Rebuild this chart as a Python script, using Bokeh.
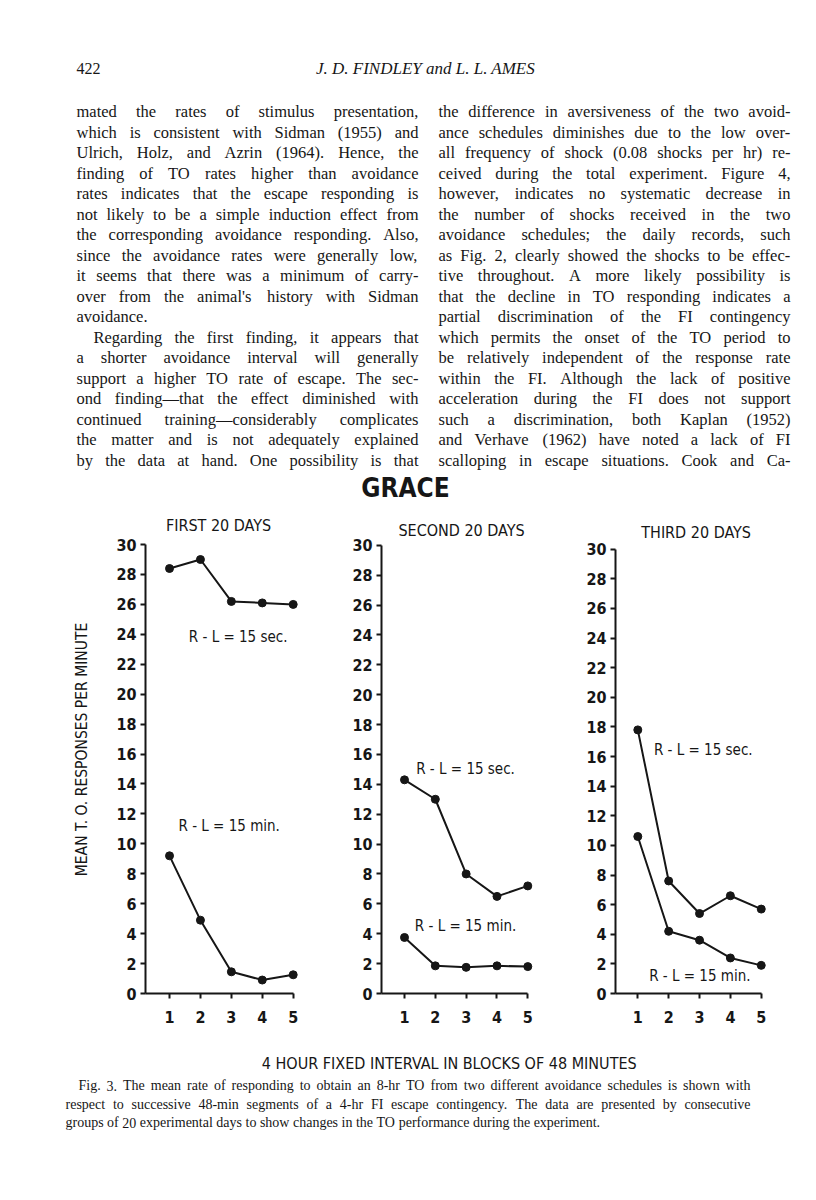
from bokeh.plotting import figure
from bokeh.models import Range1d, FixedTicker
from bokeh.layouts import row, column
from bokeh.core.properties import value
from bokeh.embed import file_html
from bokeh.resources import INLINE

# ---------------- data ----------------
blocks = [1, 2, 3, 4, 5]
first_sec = [28.4, 29.0, 26.2, 26.1, 26.0]
first_min = [9.2, 4.9, 1.45, 0.9, 1.25]
second_sec = [14.3, 13.0, 8.0, 6.5, 7.2]
second_min = [3.75, 1.85, 1.75, 1.85, 1.8]
third_sec = [17.8, 7.6, 5.4, 6.6, 5.7]
third_min = [10.6, 4.2, 3.6, 2.4, 1.9]
y_ticks = list(range(0, 31, 2))
panel_titles = ["FIRST 20 DAYS", "SECOND 20 DAYS", "THIRD 20 DAYS"]
label_sec = "R - L = 15 sec."
label_min = "R - L = 15 min."
y_title = "MEAN T. O. RESPONSES PER MINUTE"
x_title = "4 HOUR FIXED INTERVAL  IN BLOCKS OF 48 MINUTES"
big_title = "GRACE"

page_no = "422"
running_head = "J. D. FINDLEY and L. L. AMES"
left_lines = [
    "mated the rates of stimulus presentation,",
    "which is consistent with Sidman (1955) and",
    "Ulrich, Holz, and Azrin (1964). Hence, the",
    "finding of TO rates higher than avoidance",
    "rates indicates that the escape responding is",
    "not likely to be a simple induction effect from",
    "the corresponding avoidance responding. Also,",
    "since the avoidance rates were generally low,",
    "it seems that there was a minimum of carry-",
    "over from the animal's history with Sidman",
    "avoidance.",
    "Regarding the first finding, it appears that",
    "a shorter avoidance interval will generally",
    "support a higher TO rate of escape. The sec-",
    "ond finding\u2014that the effect diminished with",
    "continued training\u2014considerably complicates",
    "the matter and is not adequately explained",
    "by the data at hand. One possibility is that",
]
right_lines = [
    "the difference in aversiveness of the two avoid-",
    "ance schedules diminishes due to the low over-",
    "all frequency of shock (0.08 shocks per hr) re-",
    "ceived during the total experiment. Figure 4,",
    "however, indicates no systematic decrease in",
    "the number of shocks received in the two",
    "avoidance schedules; the daily records, such",
    "as Fig. 2, clearly showed the shocks to be effec-",
    "tive throughout. A more likely possibility is",
    "that the decline in TO responding indicates a",
    "partial discrimination of the FI contingency",
    "which permits the onset of the TO period to",
    "be relatively independent of the response rate",
    "within the FI. Although the lack of positive",
    "acceleration during the FI does not support",
    "such a discrimination, both Kaplan (1952)",
    "and Verhave (1962) have noted a lack of FI",
    "scalloping in escape situations. Cook and Ca-",
]
caption_lines = [
    "Fig. 3. The mean rate of responding to obtain an 8-hr TO from two different avoidance schedules is shown with",
    "respect to successive 48-min segments of a 4-hr FI escape contingency. The data are presented by consecutive",
    "groups of 20 experimental days to show changes in the TO performance during the experiment.",
]

INK = "#161616"
SERIF = "Liberation Serif"
NARROW = "DejaVu Sans Condensed"

# approximate Times advance widths (1/1000 em) for justification
_w = {}
for ch, w in zip(" !\"#$%&'()*+,-./", [250, 333, 408, 500, 500, 833, 778, 333, 333, 333, 500, 564, 250, 333, 250, 278]):
    _w[ch] = w
for ch in "0123456789":
    _w[ch] = 500
for ch, w in zip(":;<=>?", [278, 278, 564, 564, 564, 444]):
    _w[ch] = w
for ch, w in zip("ABCDEFGHIJKLMNOPQRSTUVWXYZ",
                 [722, 667, 667, 722, 611, 556, 722, 722, 333, 389, 722, 611, 889, 722, 722, 556, 722, 667, 556, 611, 722, 722, 944, 722, 722, 611]):
    _w[ch] = w
for ch, w in zip("abcdefghijklmnopqrstuvwxyz",
                 [444, 500, 444, 500, 444, 333, 500, 500, 278, 278, 500, 278, 778, 500, 500, 500, 500, 333, 389, 278, 500, 500, 722, 500, 500, 444]):
    _w[ch] = w
_w["\u2014"] = 1000


def tw(s, size):
    return sum(_w.get(c, 500) for c in s) * size / 1000.0


def layout_line(line, x0, x1, y, size, justify, xs, ys, ts):
    words = line.split(" ")
    if justify and len(words) > 1:
        total = sum(tw(w, size) for w in words)
        gap = (x1 - x0 - total) / (len(words) - 1)
        gap = max(gap, 0.15 * size)
    else:
        gap = tw(" ", size)
    x = x0
    for w in words:
        xs.append(x)
        ys.append(y)
        ts.append(w)
        x += tw(w, size) + gap


# ---------------- top (page text) ----------------
W = 816
TOP_H = 505
LEFT0, LEFT1 = 76, 418
RIGHT0, RIGHT1 = 438, 790
LINE0, LSTEP = 111, 20.5
top = figure(width=W, height=TOP_H, x_range=Range1d(0, W), y_range=Range1d(TOP_H, 0),
             x_axis_type=None, y_axis_type=None, toolbar_location=None,
             output_backend="svg", min_border=0, outline_line_color=None)
top.text(x=[LEFT0], y=[68], text=[page_no], text_font=value(SERIF), text_font_size=value("16px"),
         text_color=INK, text_align="left", text_baseline="middle")
top.text(x=[425], y=[68], text=[running_head], text_font=value(SERIF), text_font_size=value("17px"),
         text_font_style="italic", text_color=INK, text_align="center", text_baseline="middle")

BODY = 16.5
xs, ys, ts = [], [], []
for i, line in enumerate(left_lines):
    y = LINE0 + LSTEP * i
    x0 = LEFT0 + (17 if i == 11 else 0)
    layout_line(line, x0, LEFT1, y, BODY, i != 10, xs, ys, ts)
for i, line in enumerate(right_lines):
    y = LINE0 + LSTEP * i
    layout_line(line, RIGHT0, RIGHT1, y, BODY, True, xs, ys, ts)
top.text(x=xs, y=ys, text=ts, text_font=value(SERIF), text_font_size=value("%.1fpx" % BODY),
         text_color=INK, text_align="left", text_baseline="middle")

top.text(x=[405], y=[487], text=[big_title], text_font=value(NARROW), text_font_size=value("26px"),
         text_font_style="bold", text_color=INK, text_align="center", text_baseline="middle")


# ---------------- panels ----------------
def panel(sec, mn, title, x_start, x_end, y_end, width, bl, br, bb, tpos, spos, mpos, ylabel=None):
    p = figure(width=width, height=540, x_range=Range1d(x_start, x_end), y_range=Range1d(0, y_end),
               toolbar_location=None, output_backend="svg",
               min_border_left=bl, min_border_right=br, min_border_top=0, min_border_bottom=bb)
    p.outline_line_color = None
    p.xgrid.visible = False
    p.ygrid.visible = False
    for ax in (p.xaxis[0], p.yaxis[0]):
        ax.axis_line_width = 2
        ax.axis_line_color = INK
        ax.major_tick_line_width = 2
        ax.major_tick_line_color = INK
        ax.major_tick_in = 0
        ax.major_tick_out = 5
        ax.minor_tick_line_color = None
        ax.major_label_text_font = NARROW
        ax.major_label_text_font_size = "16px"
        ax.major_label_text_font_style = "bold"
        ax.major_label_text_color = INK
    p.yaxis.ticker = FixedTicker(ticks=y_ticks)
    p.xaxis.ticker = FixedTicker(ticks=blocks)
    p.yaxis.bounds = (0, 30)
    p.xaxis.bounds = (x_start, 5)
    p.yaxis.major_label_standoff = 4
    p.xaxis.major_label_standoff = 12
    if ylabel:
        p.yaxis.axis_label = ylabel
        p.yaxis.axis_label_text_font = NARROW
        p.yaxis.axis_label_text_font_size = "15.5px"
        p.yaxis.axis_label_text_font_style = "normal"
        p.yaxis.axis_label_text_color = INK
        p.yaxis.axis_label_standoff = 22
    for ser in (sec, mn):
        p.line(blocks, ser, line_width=2, line_color=INK)
        p.scatter(blocks, ser, size=8, fill_color=INK, line_color=INK)
    p.text(x=[tpos[0]], y=[tpos[1]], text=[title], text_font=value(NARROW), text_font_size=value("16px"),
           text_color=INK, text_align="center", text_baseline="middle")
    p.text(x=[spos[0], mpos[0]], y=[spos[1], mpos[1]], text=[label_sec, label_min],
           text_font=value(NARROW), text_font_size=value("15px"),
           text_color=INK, text_align="center", text_baseline="middle")
    return p


p1 = panel(first_sec, first_min, panel_titles[0], 0.2233, 5.236, 32.61, 300, 145, 0, 52,
           (2.585, 31.27), (3.22, 23.8), (2.93, 11.2), ylabel=y_title)
p2 = panel(second_sec, second_min, panel_titles[1], 0.2538, 5.25, 32.66, 235, 81, 0, 49,
           (2.85, 31.0), (2.98, 15.0), (2.98, 4.5))
p3 = panel(third_sec, third_min, panel_titles[2], 0.277, 5.30, 32.95, 281, 80, 46, 48,
           (2.89, 31.13), (3.12, 16.44), (3.01, 1.18))

# ---------------- bottom (axis title + caption) ----------------
BOT_H = 155
bot = figure(width=W, height=BOT_H, x_range=Range1d(0, W), y_range=Range1d(BOT_H, 0),
             x_axis_type=None, y_axis_type=None, toolbar_location=None,
             output_backend="svg", min_border=0, outline_line_color=None)
bot.text(x=[451], y=[18], text=[x_title], text_font=value(NARROW), text_font_size=value("16px"),
         text_color=INK, text_align="center", text_baseline="middle")
CAP = 14.0
cx, cy, ct = [], [], []
layout_line(caption_lines[0], 78, 750, 40, CAP, True, cx, cy, ct)
layout_line(caption_lines[1], 65, 750, 59, CAP, True, cx, cy, ct)
layout_line(caption_lines[2], 65, 750, 77, CAP, False, cx, cy, ct)
bot.text(x=cx, y=cy, text=ct, text_font=value(SERIF), text_font_size=value("%.1fpx" % CAP),
         text_color=INK, text_align="left", text_baseline="middle")

layout = column(top, row(p1, p2, p3), bot)
open("out.html", "w").write(file_html(layout, INLINE))
